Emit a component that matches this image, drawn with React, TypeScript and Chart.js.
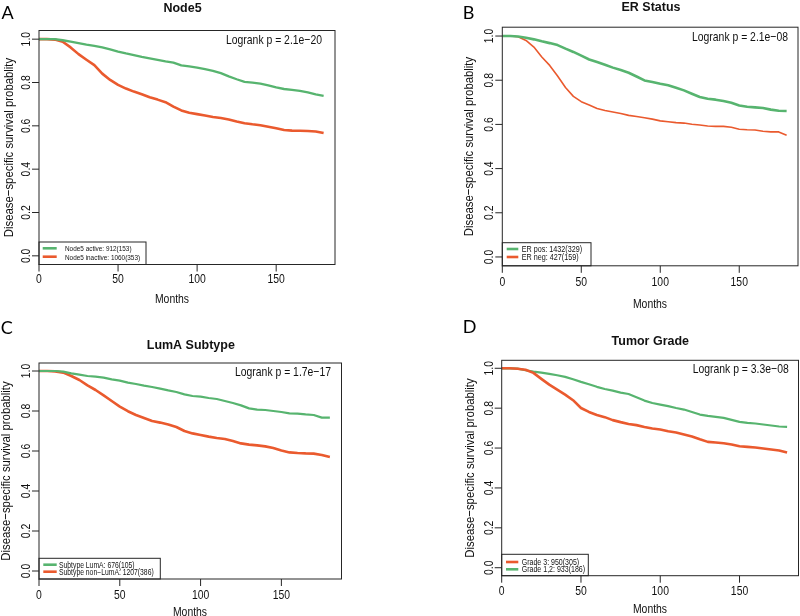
import React, { useEffect, useRef } from "react";
import { Chart, registerables } from "chart.js";

Chart.register(...registerables);

// ---------- data ----------
const MONTHS = [0, 5, 10, 15, 20, 25, 30, 35, 40, 45, 50, 55, 60, 65, 70, 75, 80, 85, 90, 95, 100, 105, 110, 115, 120, 125, 130, 135, 140, 145, 150, 155, 160, 165, 170, 175, 180];

const X_TICKS = [0, 50, 100, 150];
const Y_TICKS = [0, 0.2, 0.4, 0.6, 0.8, 1.0];

const NODE5_ACTIVE = [1, 1, 1, 0.995, 0.989, 0.982, 0.975, 0.969, 0.962, 0.953, 0.943, 0.934, 0.926, 0.918, 0.911, 0.904, 0.897, 0.892, 0.879, 0.874, 0.869, 0.862, 0.854, 0.843, 0.828, 0.815, 0.803, 0.799, 0.795, 0.787, 0.777, 0.770, 0.766, 0.761, 0.754, 0.745, 0.738];
const NODE5_INACTIVE = [1, 1, 0.998, 0.988, 0.962, 0.931, 0.905, 0.880, 0.841, 0.812, 0.789, 0.772, 0.758, 0.746, 0.732, 0.721, 0.709, 0.689, 0.671, 0.660, 0.654, 0.648, 0.641, 0.636, 0.629, 0.620, 0.612, 0.607, 0.603, 0.596, 0.589, 0.581, 0.578, 0.577, 0.576, 0.574, 0.567];

const ER_POS = [1, 1, 0.998, 0.992, 0.985, 0.976, 0.968, 0.959, 0.943, 0.928, 0.911, 0.894, 0.882, 0.870, 0.857, 0.846, 0.834, 0.817, 0.799, 0.792, 0.784, 0.777, 0.766, 0.754, 0.739, 0.724, 0.716, 0.712, 0.706, 0.698, 0.686, 0.680, 0.677, 0.674, 0.667, 0.662, 0.661];
const ER_NEG = [1, 1, 0.997, 0.980, 0.950, 0.905, 0.867, 0.819, 0.767, 0.727, 0.703, 0.688, 0.672, 0.663, 0.656, 0.649, 0.641, 0.636, 0.630, 0.624, 0.616, 0.612, 0.608, 0.606, 0.601, 0.597, 0.593, 0.591, 0.591, 0.587, 0.578, 0.576, 0.575, 0.569, 0.566, 0.566, 0.551];

const LUMA = [1, 1, 1, 0.997, 0.988, 0.982, 0.975, 0.972, 0.967, 0.958, 0.952, 0.942, 0.935, 0.927, 0.920, 0.912, 0.903, 0.895, 0.883, 0.875, 0.872, 0.865, 0.860, 0.850, 0.840, 0.828, 0.813, 0.807, 0.805, 0.800, 0.795, 0.788, 0.787, 0.783, 0.780, 0.767, 0.767];
const NON_LUMA = [1, 1, 0.998, 0.992, 0.975, 0.955, 0.928, 0.905, 0.878, 0.850, 0.822, 0.799, 0.780, 0.765, 0.750, 0.742, 0.733, 0.720, 0.700, 0.688, 0.680, 0.672, 0.665, 0.660, 0.650, 0.638, 0.632, 0.628, 0.623, 0.615, 0.603, 0.593, 0.590, 0.588, 0.587, 0.580, 0.570];

const GRADE3 = [1, 1, 0.998, 0.993, 0.977, 0.947, 0.918, 0.893, 0.868, 0.840, 0.801, 0.781, 0.766, 0.755, 0.740, 0.730, 0.721, 0.715, 0.706, 0.698, 0.693, 0.684, 0.678, 0.668, 0.658, 0.644, 0.631, 0.628, 0.624, 0.618, 0.609, 0.606, 0.603, 0.598, 0.593, 0.588, 0.578];
const GRADE12 = [1, 1, 0.998, 0.990, 0.983, 0.978, 0.972, 0.965, 0.957, 0.945, 0.932, 0.920, 0.907, 0.896, 0.888, 0.878, 0.871, 0.855, 0.838, 0.826, 0.818, 0.810, 0.801, 0.793, 0.781, 0.768, 0.761, 0.756, 0.751, 0.741, 0.731, 0.726, 0.723, 0.718, 0.713, 0.708, 0.706];

const TITLES = ["Node5", "ER Status", "LumA Subtype", "Tumor Grade"];
const LETTERS = ["A", "B", "C", "D"];
const LOGRANK = ["Logrank p = 2.1e\u221220", "Logrank p = 2.1e\u221208", "Logrank p = 1.7e\u221217", "Logrank p = 3.3e\u221208"];
const X_LABEL = "Months";
const Y_LABEL = "Disease\u2212specific survival probablity";

// ---------- styles ----------
const GREEN = "#57b46f";
const RED = "#ea5a2e";
const AXIS = "#262626";
const FONT = '"Liberation Sans", Arial, Helvetica, sans-serif';
const LETTER_FONT = 'Lato, "Open Sans", sans-serif';
const X_MIN = 0, X_MAX = 187.2, Y_MIN = -0.04, Y_MAX = 1.04;

const PANELS = [
  { series: [
    { label: "Node5 active: 912(153)", values: NODE5_ACTIVE, color: GREEN, width: 2.3 },
    { label: "Node5 inactive: 1060(353)", values: NODE5_INACTIVE, color: RED, width: 2.6 },
  ] },
  { series: [
    { label: "ER pos: 1432(329)", values: ER_POS, color: GREEN, width: 2.6 },
    { label: "ER neg: 427(159)", values: ER_NEG, color: RED, width: 1.6 },
  ] },
  { series: [
    { label: "Subtype LumA: 676(105)", values: LUMA, color: GREEN, width: 2.2 },
    { label: "Subtype non\u2212LumA: 1207(386)", values: NON_LUMA, color: RED, width: 2.6 },
  ] },
  { series: [
    { label: "Grade 3: 950(305)", values: GRADE3, color: RED, width: 2.6 },
    { label: "Grade 1,2: 933(186)", values: GRADE12, color: GREEN, width: 2.2 },
  ] },
];

const LAYOUT = [
  { box: [39, 30.5, 335, 264.5], letter: [7.5, 13], title: [182.5, 7.5], logrank: [322, 39], xTickY: 278.5, yTickX: 25.8, xLabel: [172, 298.5], yLabelX: 7.7,
    legend: { box: [39, 242, 146, 264.5], line: [42.7, 56.7], rows: [248.3, 256.7], textX: 65, size: 8 } },
  { box: [502.3, 27.2, 798, 265.8], letter: [468.5, 13], title: [651, 6.5], logrank: [788, 36], xTickY: 281.5, yTickX: 488.3, xLabel: [650, 303], yLabelX: 468.3,
    legend: { box: [502.3, 242.7, 591, 265.8], line: [506.7, 518.3], rows: [249, 257], textX: 521.7, size: 9 } },
  { box: [39, 363, 341.5, 579], letter: [6.7, 327.5], title: [190.8, 344.3], logrank: [331, 371], xTickY: 594, yTickX: 25, xLabel: [190, 611.7], yLabelX: 5.5,
    legend: { box: [39, 558.3, 160.3, 579], line: [43.3, 56.7], rows: [564.7, 571.7], textX: 59, size: 8.5 } },
  { box: [501.7, 360.3, 798.5, 575.7], letter: [469.7, 327], title: [650.3, 340.3], logrank: [788.7, 368], xTickY: 590, yTickX: 488.3, xLabel: [650, 608.7], yLabelX: 469.5,
    legend: { box: [501.7, 554.3, 588.3, 575.7], line: [506, 518.3], rows: [562, 569.3], textX: 521.7, size: 8.8 } },
];

type TextOpts = { bold?: boolean; align?: CanvasTextAlign; rot?: boolean; sq?: number; family?: string; color?: string };

function drawText(ctx: CanvasRenderingContext2D, s: string, x: number, y: number, size: number, o: TextOpts = {}) {
  const { bold = false, align = "center", rot = false, sq = 0.8, family = FONT, color = "#111" } = o;
  ctx.save();
  ctx.translate(x, y);
  if (rot) ctx.rotate(-Math.PI / 2);
  ctx.scale(sq, 1);
  ctx.font = `${bold ? "bold " : ""}${size}px ${family}`;
  ctx.textAlign = align;
  ctx.textBaseline = "alphabetic";
  ctx.fillStyle = color;
  ctx.fillText(s, 0, size * 0.36);
  ctx.restore();
}

function decorPlugin(idx: number) {
  const L: any = LAYOUT[idx];
  return {
    id: "decor" + idx,
    afterDraw(chart: any) {
      const ctx: CanvasRenderingContext2D = chart.ctx;
      const ca = chart.chartArea;
      const xs = chart.scales.x;
      const ys = chart.scales.y;
      const TICK = 7;
      ctx.save();
      ctx.strokeStyle = AXIS;
      ctx.lineWidth = 1;
      ctx.strokeRect(ca.left, ca.top, ca.right - ca.left, ca.bottom - ca.top);
      ctx.beginPath();
      for (const t of xs.ticks) {
        const px = xs.getPixelForValue(t.value);
        ctx.moveTo(px, ca.bottom);
        ctx.lineTo(px, ca.bottom + TICK);
      }
      for (const t of ys.ticks) {
        const py = ys.getPixelForValue(t.value);
        ctx.moveTo(ca.left, py);
        ctx.lineTo(ca.left - TICK, py);
      }
      ctx.stroke();

      for (const t of xs.ticks) drawText(ctx, String(t.value), xs.getPixelForValue(t.value), L.xTickY, 13);
      for (const t of ys.ticks) drawText(ctx, Number(t.value).toFixed(1), L.yTickX, ys.getPixelForValue(t.value), 13, { rot: true });

      drawText(ctx, X_LABEL, L.xLabel[0], L.xLabel[1], 13);
      drawText(ctx, Y_LABEL, L.yLabelX, (ca.top + ca.bottom) / 2, 13.5, { rot: true, sq: 0.84 });
      drawText(ctx, TITLES[idx], L.title[0], L.title[1], 13, { bold: true, sq: 0.96 });
      drawText(ctx, LETTERS[idx], L.letter[0], L.letter[1], 18, { sq: 1, family: LETTER_FONT, color: "#000" });
      drawText(ctx, LOGRANK[idx], L.logrank[0], L.logrank[1], 13, { align: "right" });

      const lg = L.legend;
      ctx.strokeStyle = AXIS;
      ctx.lineWidth = 1;
      ctx.strokeRect(lg.box[0], lg.box[1], lg.box[2] - lg.box[0], lg.box[3] - lg.box[1]);
      chart.data.datasets.forEach((ds: any, k: number) => {
        const ry = lg.rows[k];
        ctx.strokeStyle = ds.borderColor;
        ctx.lineWidth = 2.6;
        ctx.beginPath();
        ctx.moveTo(lg.line[0], ry);
        ctx.lineTo(lg.line[1], ry);
        ctx.stroke();
        drawText(ctx, ds.label, lg.textX, ry, lg.size, { align: "left" });
      });
      ctx.restore();
    },
  };
}

function makeChart(canvas: HTMLCanvasElement, idx: number) {
  const p = PANELS[idx];
  const [bl, bt, br, bb] = LAYOUT[idx].box;
  return new Chart(canvas, {
    type: "line",
    data: {
      datasets: p.series.map((s) => ({
        label: s.label,
        data: MONTHS.map((m, k) => ({ x: m, y: s.values[k] })),
        borderColor: s.color,
        borderWidth: s.width,
        pointRadius: 0,
        tension: 0,
        fill: false,
        borderJoinStyle: "round" as const,
      })),
    },
    options: {
      responsive: false,
      animation: false,
      events: [],
      layout: { padding: { left: bl, top: bt, right: 800 - br, bottom: 616 - bb } },
      plugins: { legend: { display: false }, tooltip: { enabled: false }, title: { display: false } },
      scales: {
        x: {
          type: "linear", min: X_MIN, max: X_MAX, display: false,
          afterBuildTicks: (s: any) => { s.ticks = X_TICKS.map((v) => ({ value: v })); },
        },
        y: {
          type: "linear", min: Y_MIN, max: Y_MAX, display: false,
          afterBuildTicks: (s: any) => { s.ticks = Y_TICKS.map((v) => ({ value: v })); },
        },
      },
    } as any,
    plugins: [decorPlugin(idx)],
  });
}

export default function App() {
  const refs = useRef<(HTMLCanvasElement | null)[]>([]);
  useEffect(() => {
    const charts = PANELS.map((_, i) => makeChart(refs.current[i] as HTMLCanvasElement, i));
    return () => charts.forEach((c) => c.destroy());
  }, []);
  return (
    <div style={{ position: "absolute", left: 0, top: 0, width: 800, height: 616, background: "#fff", overflow: "hidden" }}>
      {PANELS.map((_, i) => (
        <canvas
          key={i}
          ref={(el) => { refs.current[i] = el; }}
          width={800}
          height={616}
          style={{ position: "absolute", left: 0, top: 0 }}
        />
      ))}
    </div>
  );
}
